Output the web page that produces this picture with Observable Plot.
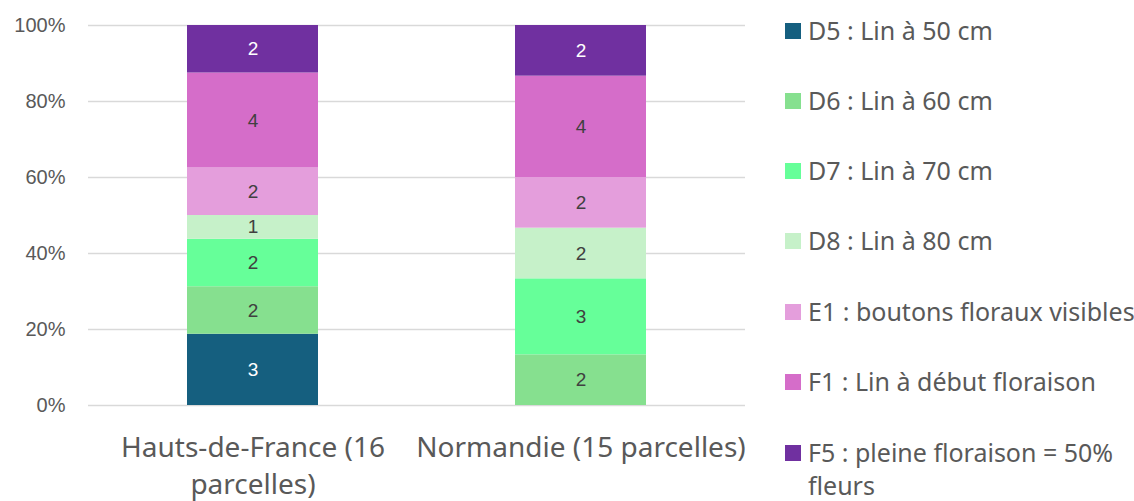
<!DOCTYPE html>
<html>
<head>
<meta charset="utf-8">
<script src="https://cdn.jsdelivr.net/npm/d3@7"></script>
<script src="https://cdn.jsdelivr.net/npm/@observablehq/plot@0.6"></script>
<style>
  html, body { margin: 0; padding: 0; background: #fff; }
  #wrap { position: relative; width: 1134px; height: 501px; overflow: hidden; }
  #legend { position: absolute; left: 785px; top: 0; width: 349px; font-family: "Noto Sans", sans-serif; font-size: 25px; color: #595959; }
  .item { position: absolute; left: 0; display: flex; align-items: flex-start; }
  .sw { width: 16px; height: 16px; margin-top: 9px; margin-right: 7px; flex: none; }
  .lbl { width: 330px; line-height: 33px; }
</style>
</head>
<body>
<div id="wrap"><div id="chart"></div><div id="legend"></div></div>
<script>
const regions = ["Hauts-de-France (16 parcelles)", "Normandie (15 parcelles)"];
const regionLabels = ["Hauts-de-France (16\nparcelles)", "Normandie (15 parcelles)"];
const stages = ["D5 : Lin à 50 cm", "D6 : Lin à 60 cm", "D7 : Lin à 70 cm", "D8 : Lin à 80 cm",
  "E1 : boutons floraux visibles", "F1 : Lin à début floraison", "F5 : pleine floraison = 50% fleurs"];
const colors = ["#155F7F", "#86E08F", "#66FF99", "#C6F1C9", "#E49EDC", "#D56DC9", "#7030A0"];
const textColors = ["#ffffff", "#404040", "#404040", "#404040", "#404040", "#404040", "#ffffff"];
const hautsDeFrance = [3, 2, 2, 1, 2, 4, 2];
const normandie = [0, 2, 3, 2, 2, 4, 2];
const yTicks = [0, 0.2, 0.4, 0.6, 0.8, 1];

const series = [hautsDeFrance, normandie];
const data = [];
regions.forEach((r, i) => stages.forEach((s, j) => {
  data.push({region: r, stage: s, count: series[i][j], tc: textColors[j]});
}));
const nonZero = data.filter(d => d.count > 0);

const chart = Plot.plot({
  width: 1134, height: 501,
  marginLeft: 88, marginRight: 389, marginTop: 25, marginBottom: 96,
  style: {fontFamily: "Liberation Sans, Arial, sans-serif", background: "#fff"},
  x: {domain: regions, paddingInner: 0.6, paddingOuter: 0.3, label: null},
  y: {domain: [0, 1], label: null},
  color: {domain: stages, range: colors},
  marks: [
    Plot.ruleY(yTicks, {stroke: "#d9d9d9", strokeWidth: 1.5}),
    Plot.barY(data, Plot.stackY({x: "region", y: "count", z: "stage", fill: "stage", order: stages, offset: "normalize"})),
    Plot.text(nonZero, Plot.stackY({x: "region", y: "count", z: "stage", text: "count", fill: "tc", order: stages, offset: "normalize", fontSize: 19})),
    Plot.axisY({ticks: yTicks, tickFormat: d3.format(".0%"), tickSize: 0, tickPadding: 23, fontSize: 20, fill: "#595959", label: null}),
    Plot.axisX({tickSize: 0, tickPadding: 26, fontSize: 28, fill: "#595959", label: null,
      tickFormat: d => regionLabels[regions.indexOf(d)], lineHeight: 1.3,
      fontFamily: "Noto Sans, sans-serif"})
  ]
});
document.getElementById("chart").appendChild(chart);

const legend = d3.select("#legend");
const tops = [14, 84, 154, 224, 295, 365, 436];
stages.forEach((s, i) => {
  const it = legend.append("div").attr("class", "item").style("top", tops[i] + "px");
  it.append("div").attr("class", "sw").style("background", colors[i]);
  it.append("div").attr("class", "lbl").text(s);
});
</script>
</body>
</html>
